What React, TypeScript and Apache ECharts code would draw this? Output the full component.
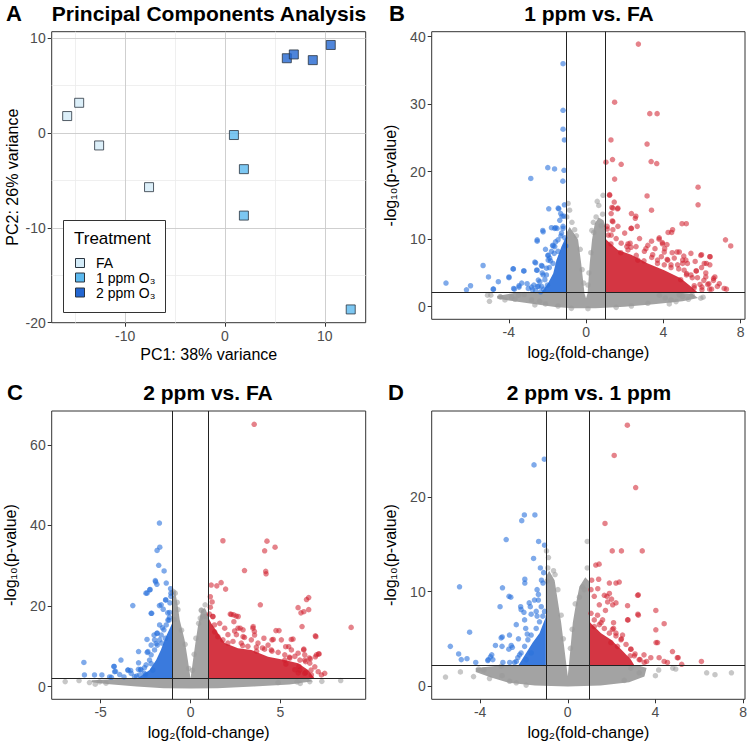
import React, { useEffect, useRef } from "react";
import * as echarts from "echarts";

const FONT = "'Liberation Sans', Arial, Helvetica, sans-serif";

// ---------- Panel A : PCA ----------
const pcaFA = [[-15.8, 1.8], [-14.6, 3.2], [-12.6, -1.3], [-7.6, -5.7]];
const pca1ppm = [[0.9, -0.2], [1.9, -3.8], [1.9, -8.7], [12.6, -18.6]];
const pca2ppm = [[6.2, 7.9], [6.9, 8.3], [8.8, 7.7], [10.6, 9.3]];
const pcaXTicks = [-10, 0, 10];
const pcaYTicks = [-20, -10, 0, 10];
const pcaMinorX = [-15, -5, 5];
const pcaMinorY = [-15, -5, 5];

// ---------- Panel B : 1 ppm vs FA ----------
const bThreshold = 2.13;
const bXTicks = [-4, 0, 4, 8];
const bYTicks = [0, 10, 20, 30, 40];
const bBlue = [
  [-1.19, 36.0], [-1.19, 29.1], [-1.19, 26.3], [-1.12, 24.7], [-1.98, 20.6], [-1.63, 20.4], [-1.14, 20.2],
  [-2.86, 19.0], [-1.2, 18.6], [-1.93, 14.5], [-1.41, 14.5], [-1.12, 15.1], [-1.31, 13.8], [-1.14, 13.4],
  [-1.63, 11.6], [-1.5, 11.6], [-2.24, 11.3], [-2.53, 9.7], [-1.7, 9.0], [-1.98, 7.6], [-2.27, 6.0],
  [-2.61, 6.5], [-5.33, 6.1], [-3.76, 5.6], [-3.23, 5.3], [-2.53, 5.4], [-5.05, 4.4], [-3.99, 4.4],
  [-4.54, 3.7], [-7.25, 3.5], [-5.98, 3.1], [-6.19, 2.5], [-4.81, 2.6], [-3.47, 3.1], [-3.05, 3.4],
  [-3.71, 2.6], [-2.61, 2.4], [-1.65, 7.9], [-2.1, 8.5], [-1.45, 8.2], [-1.84, 6.8], [-2.27, 5.0],
  [-4.79, 2.6], [-3.99, 4.3], [-3.78, 5.6], [-3.21, 5.3], [-3.33, 3.5], [-3.75, 2.7], [-3.47, 2.9],
  [-2.99, 2.7], [-2.82, 2.9], [-2.65, 6.6], [-2.31, 6.1], [-2.56, 5.4], [-2.53, 9.9], [-2.22, 11.1],
  [-1.44, 14.6], [-1.36, 12.8], [-1.24, 13.4], [-1.79, 11.7], [-1.58, 11.7], [-1.19, 11.6], [-1.95, 7.6],
  [-1.73, 9.1], [-1.58, 9.6], [-2.05, 4.7], [-2.39, 3.7], [-1.1, 10.2], [-1.05, 9.0], [-1.3, 10.5],
  [-2.45, 3.0], [-2.2, 2.6], [-2.7, 3.2], [-1.9, 5.8], [-2.0, 3.2],
  [-2.3, 3.0], [-2.47, 3.95], [-2.22, 4.7], [-2.05, 5.7], [-1.96, 6.9], [-1.79, 8.2], [-1.62, 8.9],
  [-1.45, 9.9], [-1.27, 10.9], [-1.19, 11.9], [-2.52, 3.0], [-2.77, 2.5], [-2.35, 2.2], [-2.13, 4.0],
  [-1.88, 7.2], [-1.71, 6.4],
];
const bRed = [
  [2.71, 38.9], [1.48, 30.3], [3.3, 28.6], [3.68, 28.6], [1.29, 24.7], [3.16, 24.1], [1.37, 21.8],
  [1.03, 21.4], [1.82, 21.1], [3.37, 21.5], [3.66, 21.2], [1.48, 18.9], [5.8, 17.7], [5.8, 15.1],
  [3.16, 16.4], [1.22, 16.6], [1.46, 15.5], [1.34, 14.7], [1.63, 14.5], [3.39, 14.3], [2.35, 13.8],
  [2.58, 13.4], [1.36, 12.7], [5.19, 12.3], [2.35, 11.6], [2.65, 11.9], [4.48, 11.4], [4.43, 11.0],
  [3.78, 10.0], [3.39, 9.7], [7.22, 9.9], [7.49, 9.0], [4.19, 9.2], [3.95, 9.5], [2.28, 9.4], [2.11, 8.9],
  [4.71, 8.1], [5.43, 7.9], [5.98, 7.7], [6.41, 7.4], [6.12, 6.4], [6.41, 6.2], [7.15, 2.7], [5.21, 4.9],
  [5.71, 5.3], [6.67, 4.4], [6.2, 4.4], [1.22, 16.5], [1.39, 14.6], [1.3, 13.8], [1.65, 14.6],
  [2.55, 13.1], [2.33, 11.6], [1.39, 12.6], [1.39, 11.4], [1.29, 9.3], [2.17, 9.3], [2.33, 8.8],
  [3.79, 10.2], [3.96, 9.3], [4.25, 11.0], [4.07, 8.6], [4.46, 8.0], [4.97, 12.3], [5.06, 7.5],
  [5.94, 7.6], [6.42, 7.4], [6.23, 6.4], [7.27, 2.6], [5.7, 5.3], [6.6, 4.2], [6.3, 3.3], [5.2, 4.7],
  [4.9, 4.0], [3.7, 6.9], [3.1, 8.6], [1.1, 11.5], [1.15, 10.6], [1.8, 8.0], [2.6, 7.6], [3.4, 7.3],
  [4.4, 6.2], [4.8, 5.6], [5.5, 4.3], [5.9, 3.3], [6.4, 2.6], [6.0, 2.5], [5.6, 2.8], [6.9, 3.4],
  [5.0, 6.4], [4.2, 7.0], [3.0, 6.8],
  [2.68, 6.9], [3.7, 6.4], [4.05, 6.2], [4.4, 5.8], [4.74, 6.2], [5.08, 5.4], [5.43, 4.7], [5.77, 4.3],
  [6.1, 3.9], [6.36, 3.4], [6.0, 2.9], [6.5, 2.6], [6.6, 3.9], [5.6, 3.1], [5.25, 6.4], [5.0, 6.9],
  [4.57, 7.2], [4.23, 6.9], [3.9, 7.4], [3.45, 7.7], [3.02, 8.2], [2.59, 8.9], [2.17, 8.4], [1.82, 9.4],
  [1.56, 10.1], [1.3, 10.6], [1.09, 11.9], [1.65, 11.9], [2.0, 10.9], [2.77, 10.1], [3.2, 9.1],
  [3.57, 8.6], [4.05, 8.1], [4.83, 8.1], [5.17, 6.9], [5.65, 6.7], [5.98, 5.8], [6.2, 5.0], [6.8, 3.0],
];
const bGray = [
  [-5.1, 1.7], [-5.0, 0.8], [-4.45, 1.5], [-3.85, 1.4], [-3.68, 1.1], [-3.5, 1.7], [-2.82, 1.0],
  [-2.65, 0.25], [-1.45, 0.1], [4.4, 1.0], [4.31, 0.4], [4.83, 1.75], [4.66, 0.75], [5.0, 1.5],
  [5.5, 1.7], [5.94, 1.25], [6.06, 1.4], [3.2, 0.5], [2.35, 0.1], [1.56, -0.1], [0.1, -0.3],
  [-0.76, -0.25], [-2.1, 0.4], [-0.93, 15.3], [-0.85, 14.3], [-1.0, 13.3], [-0.59, 11.4], [-0.73, 12.5],
  [0.58, 15.6], [0.66, 15.0], [0.88, 16.5], [0.86, 13.7], [0.52, 13.3], [0.38, 12.5], [0.3, 11.3],
  [0.78, 12.0], [-4.93, 1.7], [-4.42, 1.4], [4.1, 1.3], [-4.2, 1.0], [-3.2, 1.8], [-2.4, 0.8],
  [3.8, 1.7], [5.3, 1.1], [-0.3, 8.5], [-0.2, 5.5], [-0.12, 3.5], [0.25, 8.0], [0.15, 5.0], [0.1, 3.2],
  [-0.5, 10.5], [0.4, 11.0],
];
const bGrayCloud = [
  [-4.6, 1.6], [-3.5, 2.13], [-1, 2.13], [-1, 11.0], [-0.85, 11.8], [-0.65, 11.0], [-0.41, 9.9],
  [-0.25, 6.4], [-0.08, 2.0], [0, 1.24], [0.08, 2.0], [0.19, 6.4], [0.31, 9.9], [0.45, 12.3],
  [0.65, 13.2], [0.9, 12.8], [1, 12.0], [1, 2.13], [4.5, 2.13], [5.5, 1.9], [5.8, 1.3], [5.0, 0.8],
  [3.5, 0.35], [2, 0.0], [0.5, -0.25], [-0.7, -0.25], [-1.6, -0.05], [-2.8, 0.45], [-4.0, 0.9], [-4.6, 1.2],
];
const bBlueCore = [[-1, 2.13], [-2.3, 2.13], [-1.96, 3.5], [-1.7, 4.9], [-1.53, 6.9], [-1.27, 8.9], [-1, 10.6]];
const bRedCore = [[1, 2.13], [1, 10.5], [1.05, 9.9], [1.65, 8.4], [2.34, 7.7], [3.2, 6.4], [4.05, 5.4], [4.9, 4.2], [5.43, 3.0], [5.77, 2.13]];

// ---------- Panel C : 2 ppm vs FA ----------
const cThreshold = 2.0;
const cXTicks = [-5, 0, 5];
const cYTicks = [0, 20, 40, 60];
const cBlue = [
  [-1.73, 40.6], [-1.71, 34.6], [-1.86, 33.8], [-1.77, 30.1], [-1.47, 28.7], [-1.96, 26.3], [-1.87, 25.4],
  [-2.25, 24.1], [-2.48, 23.2], [-1.35, 25.7], [-1.11, 24.3], [-1.09, 22.4], [-1.37, 21.5], [-3.21, 20.1],
  [-2.16, 18.2], [-1.73, 20.1], [-1.52, 19.2], [-1.16, 18.4], [-1.56, 14.6], [-1.87, 13.2], [-2.03, 12.8],
  [-2.42, 11.7], [-1.91, 10.7], [-2.89, 8.7], [-2.41, 8.5], [-3.87, 6.6], [-5.93, 6.0], [-4.25, 5.0],
  [-4.17, 3.8], [-5.9, 2.9], [-5.34, 2.9], [-4.93, 2.9], [-3.47, 4.1], [-2.9, 4.3], [-4.4, 2.3],
  [-4.5, 2.4], [-4.26, 5.0], [-4.22, 3.7], [-3.49, 4.1], [-2.37, 8.7], [-2.78, 4.3], [-2.56, 4.7],
  [-2.19, 5.7], [-2.19, 10.3], [-2.0, 11.6], [-1.85, 13.3], [-1.72, 15.3], [-2.19, 18.2], [-1.63, 20.3],
  [-1.39, 21.5], [-1.94, 26.0], [-2.27, 24.0], [-2.42, 23.2], [-1.09, 23.2], [-1.15, 20.8], [-1.27, 18.3],
  [-1.6, 10.8], [-2.89, 5.9], [-3.33, 4.0], [-3.94, 3.0], [-1.2, 16.5], [-1.4, 12.0], [-3.0, 2.6],
  [-3.7, 2.4], [-2.5, 3.0],
  [-2.56, 3.3], [-2.75, 4.1], [-2.47, 5.4], [-2.28, 6.6], [-2.19, 7.9], [-2.0, 9.1], [-1.85, 10.3],
  [-1.72, 11.6], [-1.63, 12.8], [-1.48, 14.1], [-1.35, 15.3], [-1.26, 16.5], [-1.17, 17.2], [-2.84, 2.9],
  [-3.12, 2.5], [-3.3, 3.3], [-2.1, 4.1],
];
const cRed = [
  [3.54, 65.1], [1.8, 36.2], [4.25, 36.1], [4.12, 33.7], [4.7, 34.6], [3.0, 28.8], [4.18, 28.6], [4.2, 28.0],
  [1.15, 25.2], [1.46, 25.0], [1.7, 25.8], [1.95, 24.2], [1.1, 22.3], [6.57, 22.1], [3.88, 20.3],
  [5.98, 19.6], [6.3, 18.6], [6.57, 19.1], [1.1, 19.7], [2.21, 18.0], [2.4, 17.8], [2.65, 17.4],
  [8.93, 14.7], [6.2, 14.9], [3.48, 14.9], [2.76, 14.5], [3.55, 13.7], [6.94, 12.6], [4.75, 13.9],
  [5.7, 11.8], [5.6, 11.7], [4.6, 11.7], [6.3, 9.3], [5.46, 9.9], [7.12, 8.1], [6.94, 7.4], [6.66, 6.9],
  [6.7, 4.1], [1.24, 17.4], [1.33, 15.3], [2.27, 17.9], [2.54, 17.5], [2.41, 16.1], [2.64, 14.5],
  [2.92, 14.1], [3.47, 14.5], [2.45, 13.8], [2.08, 12.9], [3.0, 12.2], [3.56, 12.8], [4.08, 12.0],
  [4.53, 11.6], [4.92, 13.9], [5.05, 11.6], [6.14, 18.3], [6.45, 21.6], [6.97, 12.4], [6.29, 9.1],
  [6.35, 7.9], [6.6, 7.1], [7.0, 7.9], [7.15, 8.1], [6.4, 6.2], [6.03, 5.0], [6.4, 3.5], [5.99, 3.4],
  [4.53, 8.8], [5.24, 6.6], [5.5, 7.3], [3.67, 8.8], [1.2, 21.0], [1.05, 18.0], [5.8, 4.2], [5.3, 5.6],
  [4.0, 9.6], [2.9, 10.2],
  [1.34, 13.6], [1.52, 12.4], [1.8, 11.6], [2.08, 10.8], [2.36, 11.2], [2.82, 10.8], [3.19, 10.0],
  [3.66, 9.8], [4.12, 9.3], [4.49, 9.1], [4.87, 8.5], [5.24, 7.9], [5.52, 7.1], [5.8, 7.5], [6.08, 6.6],
  [6.35, 6.6], [6.63, 5.8], [6.91, 4.9], [7.1, 3.7], [6.72, 2.9], [6.35, 3.3], [6.08, 4.1], [7.28, 2.9],
  [7.46, 3.3], [5.29, 9.9], [4.31, 10.3], [3.75, 10.8], [3.38, 11.6], [2.92, 12.4], [2.55, 12.9],
  [1.9, 14.5], [1.62, 15.7], [1.24, 17.4], [5.61, 9.1], [5.98, 8.3],
];
const cGray = [
  [-6.97, 1.24], [-5.62, 1.0], [-5.06, 1.2], [-4.7, 0.85], [5.92, 1.15], [6.63, 1.24], [8.35, 1.5],
  [4.87, 1.0], [-0.95, 23.6], [-0.85, 23.2], [-0.74, 20.9], [-0.7, 19.1], [-0.92, 16.6], [0.6, 19.0],
  [0.81, 20.3], [0.73, 17.4], [0.45, 15.7], [0.6, 18.9], [0.54, 17.0], [0.88, 17.4], [-1.0, 23.3],
  [-6.2, 1.5], [-5.3, 0.6], [7.3, 1.3], [6.1, 0.8], [-0.3, 10.5], [-0.5, 14.0], [0.3, 12.0], [0.2, 8.0],
  [-0.1, 4.5], [0.1, 4.0],
];
const cGrayCloud = [
  [-5.5, 1.6], [-3.5, 2.0], [-1, 2.0], [-1, 22], [-0.85, 23.5], [-0.74, 20.9], [-0.6, 16.5], [-0.33, 11.6],
  [-0.15, 6.6], [0.0, 2.0], [0.14, 6.6], [0.27, 10.8], [0.41, 14.9], [0.6, 19.0], [0.8, 19.5], [1.0, 17.5],
  [1, 2.0], [6.5, 2.0], [6.8, 1.3], [5.5, 0.5], [3.5, 0.0], [1.5, -0.4], [0, -0.5], [-1.5, -0.4], [-3, 0],
  [-4.5, 0.6], [-5.5, 1.1],
];
const cBlueCore = [[-1, 2], [-2.95, 2], [-2.28, 4.1], [-1.91, 6.6], [-1.65, 9.1], [-1.37, 12.4], [-1.02, 15.7], [-1, 16]];
const cRedCore = [[1, 2], [1, 17], [1.15, 15.7], [1.9, 10.8], [2.64, 9.5], [3.38, 9.1], [4.31, 7.4], [5.24, 6.6], [5.98, 5.8], [6.54, 4.1], [6.9, 2]];

// ---------- Panel D : 2 ppm vs 1 ppm ----------
const dThreshold = 2.2;
const dXTicks = [-4, 0, 4, 8];
const dYTicks = [0, 10, 20];
const dBlue = [
  [-1.07, 24.0], [-1.54, 23.4], [-1.98, 18.1], [-1.5, 18.1], [-2.1, 17.5], [-2.81, 15.5], [-1.33, 15.3],
  [-1.06, 14.9], [-1.56, 13.5], [-1.96, 11.3], [-1.96, 10.9], [-1.2, 11.2], [-4.94, 10.5], [-2.98, 10.4],
  [-2.68, 9.5], [-2.6, 9.4], [-3.09, 8.4], [-2.15, 8.4], [-1.76, 8.8], [-4.48, 5.7], [-2.99, 5.2],
  [-5.36, 4.2], [-4.98, 3.4], [-4.86, 2.8], [-4.6, 2.9], [-4.2, 2.5], [-3.47, 3.3], [-3.3, 4.3],
  [-3.63, 2.8], [-2.53, 4.1], [-3.65, 2.7], [-3.53, 3.1], [-3.04, 5.1], [-3.0, 4.2], [-2.69, 3.9],
  [-2.58, 4.3], [-2.66, 5.4], [-2.35, 6.5], [-2.13, 8.1], [-1.97, 7.0], [-2.0, 7.8], [-1.92, 6.1],
  [-1.71, 8.4], [-1.13, 10.9], [-1.4, 10.2], [-1.34, 9.7], [-1.52, 9.1], [-1.34, 9.1], [-1.44, 7.9],
  [-1.67, 7.6], [-2.2, 3.3], [-2.35, 2.6], [-2.65, 2.5], [-2.96, 2.5], [-3.42, 2.8], [-1.1, 12.0],
  [-1.25, 12.5], [-2.25, 5.0], [-1.85, 5.5],
  [-1.14, 7.4], [-1.29, 6.8], [-1.44, 6.1], [-1.67, 5.4], [-1.82, 4.9], [-1.97, 4.2], [-2.13, 3.5],
  [-2.28, 3.0], [-2.43, 2.5], [-1.67, 3.5], [-1.9, 2.8], [-1.06, 7.9], [-1.21, 8.4], [-1.4, 7.4],
];
const dRed = [
  [2.72, 27.6], [2.12, 24.4], [3.1, 21.0], [1.7, 17.2], [2.03, 14.3], [2.45, 14.3], [3.4, 14.3],
  [1.28, 12.8], [1.43, 12.9], [1.09, 11.2], [2.2, 10.9], [1.37, 10.3], [1.9, 9.8], [3.22, 9.65],
  [2.0, 9.2], [2.73, 8.5], [4.02, 8.0], [3.2, 7.6], [2.75, 7.0], [4.02, 5.95], [4.4, 6.6], [4.03, 4.6],
  [4.78, 3.65], [6.1, 2.6], [5.0, 3.0], [5.2, 2.3], [1.41, 11.3], [1.9, 10.9], [2.35, 11.0],
  [1.06, 10.2], [1.67, 9.6], [1.79, 9.5], [1.82, 8.9], [1.21, 9.5], [1.44, 8.6], [1.72, 8.0], [2.05, 8.6],
  [2.2, 8.8], [3.19, 9.6], [3.22, 7.5], [2.73, 7.0], [2.09, 6.7], [4.1, 4.6], [5.04, 3.0], [4.4, 2.6],
  [4.55, 2.5], [4.17, 3.0], [3.79, 3.0], [3.48, 3.3], [3.04, 3.2], [2.88, 3.9], [2.45, 5.0], [2.2, 5.6],
  [2.04, 6.0], [1.52, 6.7], [1.21, 6.3], [3.6, 2.6], [3.3, 2.8],
  [1.21, 7.0], [1.44, 6.5], [1.67, 6.1], [1.9, 5.6], [2.2, 5.3], [2.43, 4.9], [2.66, 4.4], [2.88, 3.9],
  [3.07, 3.4], [3.26, 2.8], [3.49, 2.5], [2.85, 3.2], [2.27, 4.2], [1.97, 4.6], [1.06, 7.7], [1.36, 7.5],
  [1.59, 7.0], [2.09, 6.1], [2.5, 5.4],
];
const dGray = [
  [-5.58, 0.95], [-4.9, 1.5], [-4.3, 1.0], [-4.07, 1.8], [-3.83, 1.7], [-3.57, 0.8], [-3.04, 2.1],
  [-3.0, 1.1], [-2.65, 0.5], [-2.35, 0.35], [-1.9, 0.1], [2.88, 1.9], [3.26, 1.4], [4.0, 1.1], [4.15, 1.7],
  [4.93, 1.8], [6.34, 1.4], [6.72, 1.2], [7.47, 1.4], [2.58, 0.6], [4.79, 1.9], [-0.97, 14.3],
  [-0.88, 13.6], [-0.91, 12.5], [-0.65, 12.2], [-0.58, 11.8], [-0.95, 11.1], [-0.45, 10.2], [0.89, 15.3],
  [0.89, 12.5], [0.67, 10.5], [0.76, 10.2], [0.53, 9.4], [0.34, 8.7], [-0.3, 7.5], [-0.2, 5.0], [0.2, 6.0],
  [0.12, 4.0],
];
const dGrayCloud = [
  [-4.2, 1.9], [-3, 2.2], [-1, 2.2], [-1, 11.5], [-0.85, 12.2], [-0.6, 11.2], [-0.46, 9.1], [-0.3, 6.7],
  [-0.15, 3.9], [0.0, 1.05], [0.12, 3.9], [0.23, 6.7], [0.38, 8.8], [0.53, 10.5], [0.8, 11.5], [1.0, 11.0],
  [1.0, 2.2], [3.2, 2.2], [3.6, 1.9], [3.5, 1.0], [2.8, 0.4], [1.5, 0.05], [0, -0.05], [-1.5, 0.05],
  [-2.7, 0.35], [-3.5, 0.9], [-4.2, 1.5],
];
const dBlueCore = [[-1, 2.2], [-2.25, 2.2], [-1.9, 3.5], [-1.6, 4.6], [-1.29, 5.6], [-1.02, 7.2], [-1, 7.5]];
const dRedCore = [[1, 2.2], [1, 7.0], [1.03, 6.7], [1.52, 5.6], [1.98, 4.9], [2.43, 3.9], [2.88, 2.8], [3.04, 2.2]];

// ---------- styling ----------
const C_GRAY = "#a3a3a3";
const C_BLUE = "#1f68d8";
const C_RED = "#cc1322";
const C_FA = "#d3ebf8";
const C_1 = "#5bb9ef";
const C_2 = "#2366d1";

const grids = [
  { left: 51.7, top: 31.7, width: 314, height: 291 },
  { left: 431.7, top: 31.7, width: 313.3, height: 287.6 },
  { left: 51.7, top: 411, width: 314, height: 288.3 },
  { left: 431.7, top: 411, width: 313.3, height: 288.3 },
];

function axis(gi: number, min: number, max: number, ticks: number[], name: string, gap: number) {
  return {
    type: "value",
    gridIndex: gi,
    min,
    max,
    axisLine: { show: false, onZero: false },
    axisTick: { show: true, length: 4, lineStyle: { color: "#333", width: 1 }, customValues: ticks },
    axisLabel: { show: true, customValues: ticks, color: "#4d4d4d", fontSize: 14, margin: 6, fontFamily: FONT },
    splitLine: { show: false },
    name,
    nameLocation: "middle",
    nameGap: gap,
    nameMoveOverlap: false,
    nameTextStyle: { color: "#000", fontSize: 16, fontFamily: FONT },
  };
}

function poly(gi: number, pts: number[][], fill: string, opacity: number) {
  return {
    type: "custom",
    xAxisIndex: gi,
    yAxisIndex: gi,
    silent: true,
    clip: true,
    data: [pts[0]],
    renderItem: (_p: any, api: any) => ({
      type: "polygon",
      shape: { points: pts.map((p) => api.coord(p)) },
      style: { fill, opacity },
    }),
  };
}

function dots(gi: number, pts: number[][], color: string, opacity: number, extra: any = {}) {
  return {
    type: "scatter",
    xAxisIndex: gi,
    yAxisIndex: gi,
    data: pts,
    symbolSize: 5.5,
    silent: true,
    itemStyle: { color, opacity },
    ...extra,
  };
}

function thresholdLines(thr: number) {
  return {
    markLine: {
      silent: true,
      symbol: ["none", "none"],
      label: { show: false },
      z: 5,
      lineStyle: { color: "#222", width: 1, type: "solid" },
      data: [{ xAxis: -1 }, { xAxis: 1 }, { yAxis: thr }],
    },
  };
}

function volcano(gi: number, gray: number[][], blue: number[][], red: number[][], cloud: number[][],
  bc: number[][], rc: number[][], thr: number) {
  return [
    poly(gi, cloud, C_GRAY, 1),
    poly(gi, bc, C_BLUE, 0.88),
    poly(gi, rc, C_RED, 0.85),
    dots(gi, gray, "#999999", 0.55, thresholdLines(thr)),
    dots(gi, blue, "#2a72dc", 0.6),
    dots(gi, red, "#cf1b2a", 0.55),
  ];
}

const gridLineData = [
  ...pcaMinorX.map((v) => ({ xAxis: v, lineStyle: { color: "#ebebeb", width: 0.8, type: "solid" } })),
  ...pcaMinorY.map((v) => ({ yAxis: v, lineStyle: { color: "#ebebeb", width: 0.8, type: "solid" } })),
  ...pcaXTicks.map((v) => ({ xAxis: v, lineStyle: { color: "#c9c9c9", width: 0.9, type: "solid" } })),
  ...pcaYTicks.filter((v) => v > -20).map((v) => ({ yAxis: v, lineStyle: { color: "#c9c9c9", width: 0.9, type: "solid" } })),
];

const pcaSeries = (data: number[][], color: string, extra: any = {}) => ({
  type: "scatter",
  xAxisIndex: 0,
  yAxisIndex: 0,
  data,
  symbol: "rect",
  symbolSize: 9,
  silent: true,
  itemStyle: { color, borderColor: "#2b3540", borderWidth: 1 },
  z: 3,
  ...extra,
});

const legendRows = [
  { label: "FA", color: C_FA },
  { label: "1 ppm O\u2083", color: C_1 },
  { label: "2 ppm O\u2083", color: C_2 },
];
const legendRowY = [263, 277.5, 292.5];

const txt = (x: number, y: number, text: string, font: string, align = "left") => ({
  type: "text",
  x,
  y,
  z: 100,
  style: { text, font, fill: "#000", align, verticalAlign: "middle" },
});

const option: any = {
  animation: false,
  backgroundColor: "#ffffff",
  textStyle: { fontFamily: FONT },
  grid: grids.map((g) => ({
    ...g,
    show: true,
    borderColor: "#333",
    borderWidth: 1,
    backgroundColor: "#fff",
    containLabel: false,
    outerBoundsMode: "none",
  })),
  xAxis: [
    axis(0, -17.35, 14.1, pcaXTicks, "PC1: 38% variance", 24),
    axis(1, -7.99, 8.23, bXTicks, "log\u2082(fold-change)", 25),
    axis(2, -7.72, 9.74, cXTicks, "log\u2082(fold-change)", 25),
    axis(3, -6.21, 8.09, dXTicks, "log\u2082(fold-change)", 25),
  ],
  yAxis: [
    axis(0, -20, 10.7, pcaYTicks, "PC2: 26% variance", 31),
    axis(1, -1.87, 40.74, bYTicks, "-log\u2081\u2080(p-value)", 33),
    axis(2, -3.15, 68.4, cYTicks, "-log\u2081\u2080(p-value)", 33),
    axis(3, -1.4, 29.1, dYTicks, "-log\u2081\u2080(p-value)", 33),
  ],
  series: [
    pcaSeries(pcaFA, C_FA, {
      name: "FA",
      markLine: { silent: true, z: 1, symbol: ["none", "none"], label: { show: false }, data: gridLineData },
    }),
    pcaSeries(pca1ppm, C_1, { name: "1 ppm O\u2083" }),
    pcaSeries(pca2ppm, C_2, { name: "2 ppm O\u2083" }),
    ...volcano(1, bGray, bBlue, bRed, bGrayCloud, bBlueCore, bRedCore, bThreshold),
    ...volcano(2, cGray, cBlue, cRed, cGrayCloud, cBlueCore, cRedCore, cThreshold),
    ...volcano(3, dGray, dBlue, dRed, dGrayCloud, dBlueCore, dRedCore, dThreshold),
  ],
  graphic: [
    txt(6, 13, "A", `bold 22px ${FONT}`),
    txt(209, 13, "Principal Components Analysis", `bold 21px ${FONT}`, "center"),
    txt(389, 13, "B", `bold 22px ${FONT}`),
    txt(589, 13, "1 ppm vs. FA", `bold 21px ${FONT}`, "center"),
    txt(7, 392, "C", `bold 22px ${FONT}`),
    txt(208, 392, "2 ppm vs. FA", `bold 21px ${FONT}`, "center"),
    txt(388, 392, "D", `bold 22px ${FONT}`),
    txt(589, 392, "2 ppm vs. 1 ppm", `bold 21px ${FONT}`, "center"),
    {
      type: "rect",
      z: 99,
      shape: { x: 63.5, y: 220.5, width: 102, height: 92 },
      style: { fill: "#fff", stroke: "#333", lineWidth: 1 },
    },
    txt(74, 238, "Treatment", `17px ${FONT}`),
    ...legendRows.map((r, i) => ({
      type: "rect",
      z: 100,
      shape: { x: 75.5, y: legendRowY[i] - 4.5, width: 9, height: 9 },
      style: { fill: r.color, stroke: "#2b3540", lineWidth: 1 },
    })),
    ...legendRows.map((r, i) => txt(96, legendRowY[i], r.label, `14px ${FONT}`)),
  ],
};

export default function App() {
  const ref = useRef<HTMLDivElement>(null);
  useEffect(() => {
    if (!ref.current) return;
    const chart = echarts.init(ref.current, null, { renderer: "svg", width: 750, height: 745 });
    chart.setOption(option);
    return () => chart.dispose();
  }, []);
  return (
    <div
      ref={ref}
      style={{ position: "fixed", left: 0, top: 0, width: 750, height: 745, background: "#fff" }}
    />
  );
}
